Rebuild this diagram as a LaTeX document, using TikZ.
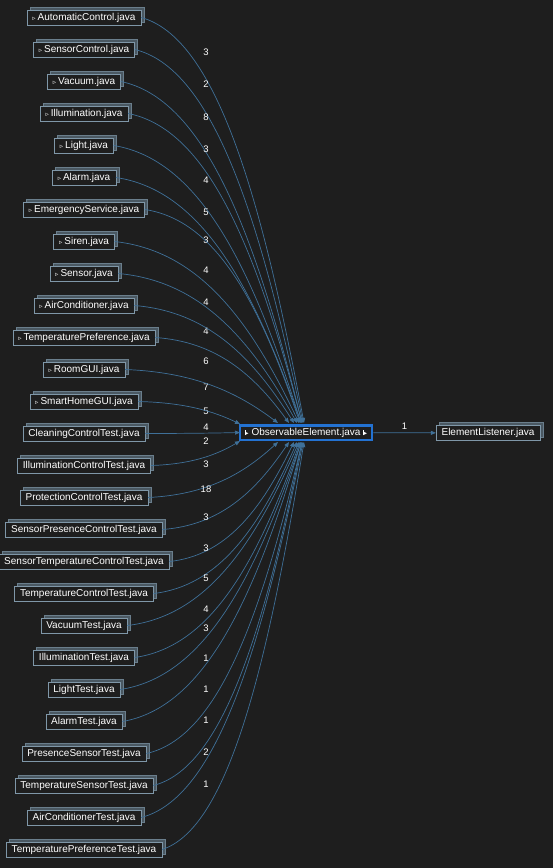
\documentclass[tikz,border=0pt]{standalone}
\usepackage{fontspec}
\setmainfont{Liberation Sans}
\newfontfamily\symfont{DejaVu Sans}
\usetikzlibrary{calc,arrows.meta,shadows}
\definecolor{bg}{HTML}{1E1E1E}
\definecolor{boxedge}{HTML}{7F97A8}
\definecolor{boxside}{HTML}{4A5862}
\definecolor{depline}{HTML}{3F7098}
\definecolor{obsline}{HTML}{2372D2}
\newcommand\ico{{\symfont\fontsize{6.5}{6.5}\selectfont ▹}\hspace{2pt}}
\newcommand\oico{{\symfont\fontsize{6.5}{6.5}\selectfont\rule[-0.2pt]{0.6pt}{5pt}▸}}
\begin{document}
\begin{tikzpicture}
  [x=1pt,y=-1pt,
   every node/.style={font=\fontsize{10}{12}\selectfont,text=white},
   cls/.style={draw=boxedge,fill=bg,minimum height=15,inner xsep=5.5,inner ysep=1,
     general shadow={fill=boxside,draw=boxedge!60!boxside,shadow xshift=3pt,shadow yshift=3pt}},
   obsbox/.style={draw=obsline,line width=2.5pt,fill=bg,minimum height=14.5,inner xsep=5,inner ysep=1},
   dep/.style={draw=depline,line width=0.7pt,-{Triangle[length=5pt,width=4pt]}},
   num/.style={font=\fontsize{9.5}{11}\selectfont}]
  \fill[bg] (0,0) rectangle (553,868);
  \useasboundingbox (0,0) rectangle (553,868);

  \node[obsbox] (obs) at (306,432.5) {\oico\ ObservableElement.java \oico};
  \node[cls] (el) at (488,433) {ElementListener.java};
  \draw[dep] (obs) -- node[num,above] (l0) {1} (el);

  \foreach \i/\t/\w/\ly/\ex/\ey in {
    1/\ico AutomaticControl.java/3/52/304/423,
    2/\ico SensorControl.java/2/84/303/423,
    3/\ico Vacuum.java/8/117/302/423,
    4/\ico Illumination.java/3/149/302/423,
    5/\ico Light.java/4/180/301/423,
    6/\ico Alarm.java/5/212/301/423,
    7/\ico EmergencyService.java/3/240/300/423,
    8/\ico Siren.java/4/270/299/423,
    9/\ico Sensor.java/4/302/297/423,
    10/\ico AirConditioner.java/4/331/294/423,
    11/\ico TemperaturePreference.java/6/361/289/423,
    12/\ico RoomGUI.java/7/387/278/423,
    13/\ico SmartHomeGUI.java/5/411/240/424,
    14/CleaningControlTest.java/4/427/240/432.5,
    15/IlluminationControlTest.java/2/441/240/441,
    16/ProtectionControlTest.java/3/464/278/442,
    17/SensorPresenceControlTest.java/18/489/289/442,
    18/SensorTemperatureControlTest.java/3/517/294/442,
    19/TemperatureControlTest.java/3/548/297/442,
    20/VacuumTest.java/5/578/299/442,
    21/IlluminationTest.java/4/609/300/442,
    22/LightTest.java/3/628/301/442,
    23/AlarmTest.java/1/658/301/442,
    24/PresenceSensorTest.java/1/689/302/442,
    25/TemperatureSensorTest.java/1/720/302/442,
    26/AirConditionerTest.java/2/752/303/442,
    27/TemperaturePreferenceTest.java/1/784/304/442}{
    \pgfmathsetmacro\ypos{17.5+32*(\i-1)}
    \node[cls] (s\i) at (84,\ypos) {\t};
    \coordinate (e\i) at (\ex,\ey);
    \node[num] (l\i) at (206,\ly) {\w};
    \draw[dep] let \p1=(s\i.east), \p2=(e\i), \n1={\x2-\x1}, \n2={\y2-\y1} in
      (\p1) .. controls +({0.45*\n1*1pt},{0.05*\n2*1pt}) and +({-0.27*\n1*1pt},{-0.58*\n2*1pt}) .. (\p2);
  }
\end{tikzpicture}
\end{document}
